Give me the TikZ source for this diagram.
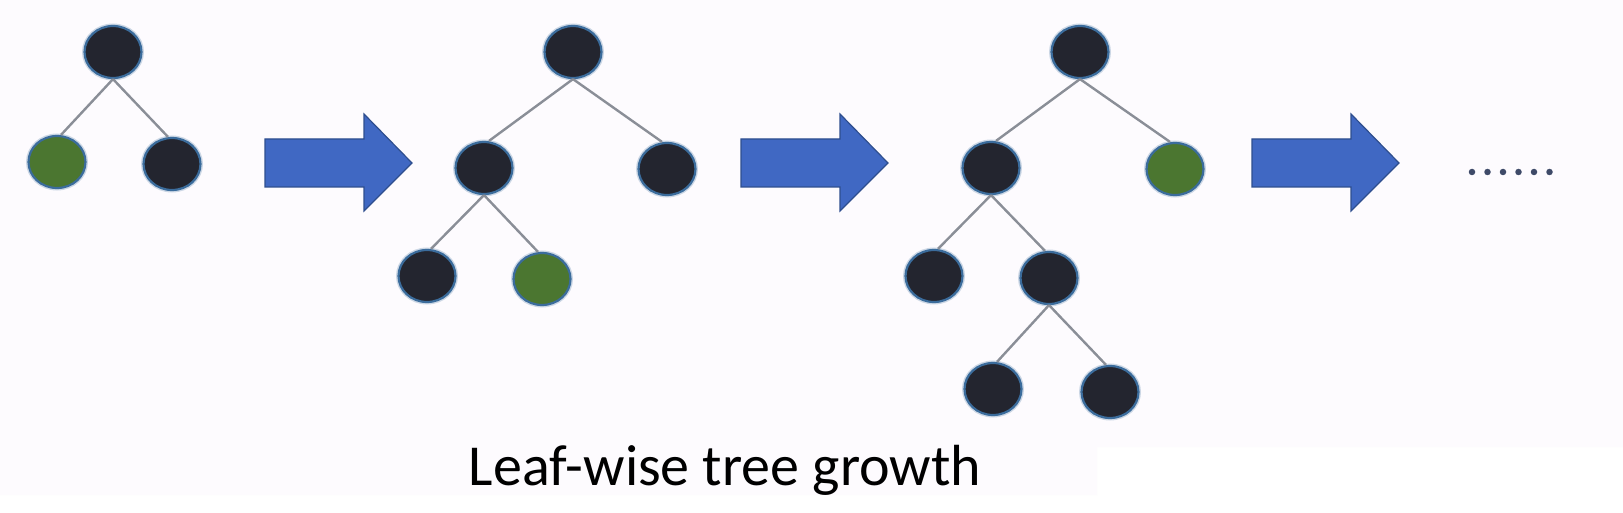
\documentclass[tikz,border=0pt]{standalone}
\usepackage{fontspec}
\setmainfont{Carlito}
\definecolor{bgpink}{HTML}{FDFBFE}
\definecolor{nodedark}{HTML}{23252F}
\definecolor{nodegreen}{HTML}{4B7630}
\definecolor{nodeedge}{HTML}{3B6C9C}
\definecolor{edgegray}{HTML}{8A8E97}
\definecolor{arrowfill}{HTML}{4068C3}
\definecolor{arrowedge}{HTML}{2E4E8E}
\definecolor{dotcol}{HTML}{3E4A68}
\usetikzlibrary{shapes.geometric}
\tikzset{
  treenode/.style={ellipse, minimum width=57pt, minimum height=52pt, inner sep=0pt,
    fill=nodedark, draw=nodeedge, line width=2.2pt,
    preaction={draw=nodeedge, draw opacity=0.25, line width=5pt}},
  leafnode/.style={treenode, fill=nodegreen},
  branch/.style={draw=edgegray, line width=2.4pt},
  bigarrowstyle/.style={fill=arrowfill, draw=arrowedge, line width=1.2pt, line join=miter},
  dotstyle/.style={circle, fill=dotcol, minimum size=6.5pt, inner sep=0pt},
}
\newcommand{\fatarrow}[2]{%
  \draw[bigarrowstyle] (#1,-#2) ++(0,24) -- ++(99,0) -- ++(0,25) -- ++(48,-49)
    -- ++(-48,-48) -- ++(0,24) -- ++(-99,0) -- cycle;}
\begin{document}
\begin{tikzpicture}[x=1pt,y=1pt]
\useasboundingbox (0,0) rectangle (1623,-513);
\fill[white] (0,0) rectangle (1623,-513);
\fill[bgpink] (0,0) -- (1623,0) -- (1623,-447) -- (1097,-447) -- (1097,-495) -- (0,-495) -- cycle;

% edges drawn behind the nodes
\begin{scope}
% tree 1
\node[treenode] (a0) at (113,-52) {};
\node[leafnode] (a1) at (57,-162) {};
\node[treenode] (a2) at (172,-164) {};
% tree 2
\node[treenode] (b0) at (573,-52) {};
\node[treenode] (b1) at (484,-168) {};
\node[treenode] (b2) at (667,-169) {};
\node[treenode] (b3) at (427,-276) {};
\node[leafnode] (b4) at (542,-279) {};
% tree 3
\node[treenode] (c0) at (1080,-52) {};
\node[treenode] (c1) at (991,-168) {};
\node[leafnode] (c2) at (1175,-169) {};
\node[treenode] (c3) at (934,-276) {};
\node[treenode] (c4) at (1049,-278) {};
\node[treenode] (c5) at (993,-389) {};
\node[treenode] (c6) at (1110,-392) {};
\end{scope}

\draw[branch] (a0.south) -- ([xshift=4pt]a1.north);
\draw[branch] (a0.south) -- ([xshift=-4pt]a2.north);
\draw[branch] (b0.south) -- ([xshift=5pt]b1.north);
\draw[branch] (b0.south) -- ([xshift=-5pt]b2.north);
\draw[branch] (b1.south) -- ([xshift=4pt]b3.north);
\draw[branch] (b1.south) -- ([xshift=-4pt]b4.north);
\draw[branch] (c0.south) -- ([xshift=5pt]c1.north);
\draw[branch] (c0.south) -- ([xshift=-5pt]c2.north);
\draw[branch] (c1.south) -- ([xshift=4pt]c3.north);
\draw[branch] (c1.south) -- ([xshift=-4pt]c4.north);
\draw[branch] (c4.south) -- ([xshift=4pt]c5.north);
\draw[branch] (c4.south) -- ([xshift=-4pt]c6.north);

% arrows
\fatarrow{265}{163}
\fatarrow{741}{163}
\fatarrow{1252}{163}

% dots
\foreach \i in {0,...,5} {
  \node[dotstyle] (d\i) at (1472+15.5*\i,-172) {};
}

% caption
\node[anchor=base, font=\fontsize{58}{70}\selectfont, text=black, inner sep=0pt] (cap) at (725,-485) {Leaf-wise tree growth};
\end{tikzpicture}
\end{document}
